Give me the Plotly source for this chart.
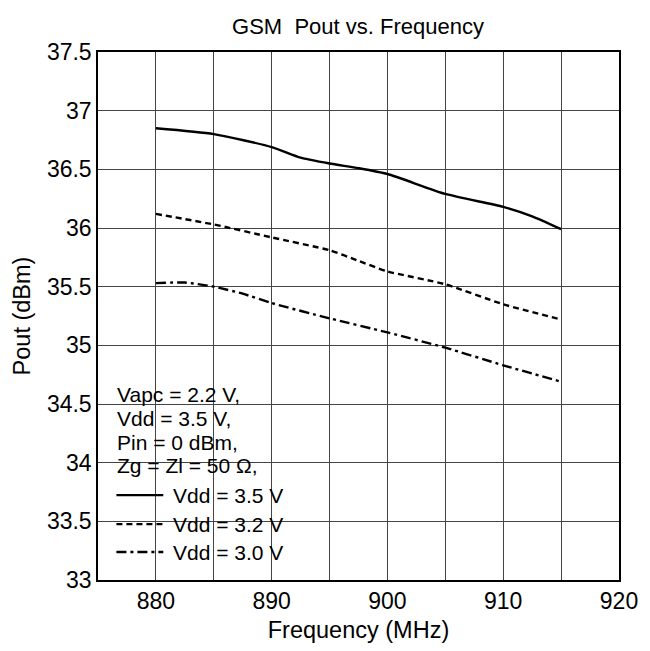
import plotly.graph_objects as go

# ---- data ----
freq_35 = [880, 885, 890, 892.5, 895, 897.5, 900, 905, 910, 912.5, 915]
pout_35 = [36.85, 36.80, 36.69, 36.60, 36.55, 36.51, 36.46, 36.29, 36.18, 36.10, 35.99]

freq_32 = [880, 885, 890, 895, 897.5, 900, 905, 910, 915]
pout_32 = [36.12, 36.03, 35.92, 35.81, 35.72, 35.63, 35.52, 35.35, 35.22]

freq_30 = [880, 882.5, 885, 887.5, 890, 895, 900, 905, 910, 915]
pout_30 = [35.53, 35.535, 35.50, 35.44, 35.36, 35.23, 35.11, 34.98, 34.83, 34.69]

series_names = ["Vdd = 3.5 V", "Vdd = 3.2 V", "Vdd = 3.0 V"]
series_dash = ["solid", "6px,4px", "10px,4px,3px,4px"]
conditions = ["Vapc = 2.2 V,", "Vdd = 3.5 V,", "Pin = 0 dBm,", "Zg = Zl = 50 \u03a9,"]

title_text = "GSM\u00a0 Pout vs. Frequency"
x_title = "Frequency (MHz)"
y_title = "Pout (dBm)"

# ---- layout geometry ----
W, H = 650, 651
ML, MR, MT, MB = 98, 23, 52, 70
PW, PH = W - ML - MR, H - MT - MB
FONT = "Liberation Sans, Arial, sans-serif"


def px(xp):
    return (xp - ML) / PW


def py(yp):
    return (H - MB - yp) / PH


fig = go.Figure()
for fx, fy, name, dash in zip([freq_35, freq_32, freq_30], [pout_35, pout_32, pout_30],
                              series_names, series_dash):
    fig.add_trace(go.Scatter(x=fx, y=fy, mode="lines", name=name, showlegend=False,
                             line=dict(color="black", width=2.4, dash=dash,
                                       shape="spline", smoothing=0.6)))

shapes = []
annotations = []
# white legend box hiding the grid
shapes.append(dict(type="rect", xref="paper", yref="paper",
                   x0=px(111), x1=px(289), y0=py(567), y1=py(379),
                   fillcolor="white", line=dict(width=0), layer="between"))
cond_y = [395, 419, 443, 466]
for txt, yy in zip(conditions, cond_y):
    annotations.append(dict(text=txt, xref="paper", yref="paper", x=px(115.5), y=py(yy),
                            xanchor="left", yanchor="middle", showarrow=False,
                            font=dict(family=FONT, size=21, color="black")))
entry_y = [496, 525, 553]
for name, dash, yy in zip(series_names, series_dash, entry_y):
    shapes.append(dict(type="line", xref="paper", yref="paper",
                       x0=px(116.7), x1=px(164.3), y0=py(yy), y1=py(yy),
                       line=dict(color="black", width=2.4, dash=dash), layer="above"))
    annotations.append(dict(text=name, xref="paper", yref="paper", x=px(172), y=py(yy),
                            xanchor="left", yanchor="middle", showarrow=False,
                            font=dict(family=FONT, size=21, color="black")))

fig.update_layout(
    width=W, height=H,
    margin=dict(l=ML, r=MR, t=MT, b=MB, pad=0),
    paper_bgcolor="white", plot_bgcolor="white",
    font=dict(family=FONT, color="black"),
    title=dict(text=title_text, x=px(362), xref="paper", xanchor="center",
               y=1 - 26 / H, yanchor="middle", font=dict(family=FONT, size=22, color="black")),
    shapes=shapes, annotations=annotations, showlegend=False,
)
fig.update_xaxes(range=[875, 920], tick0=880, dtick=10, showgrid=True, gridcolor="#444",
                 gridwidth=1, minor=dict(dtick=5, tick0=875, showgrid=True, gridcolor="#444", gridwidth=1),
                 showline=True, linecolor="black", linewidth=1.5, mirror=True, ticks="",
                 zeroline=False, tickfont=dict(size=23),
                 title=dict(text=x_title, font=dict(size=23.5), standoff=8))
fig.update_yaxes(range=[33, 37.5], tick0=33, dtick=0.5, showgrid=True, gridcolor="#444",
                 gridwidth=1, showline=True, linecolor="black", linewidth=1.5, mirror=True,
                 ticks="", zeroline=False, tickfont=dict(size=23),
                 title=dict(text=y_title, font=dict(size=23.5), standoff=10))

fig.write_html("out.html")
